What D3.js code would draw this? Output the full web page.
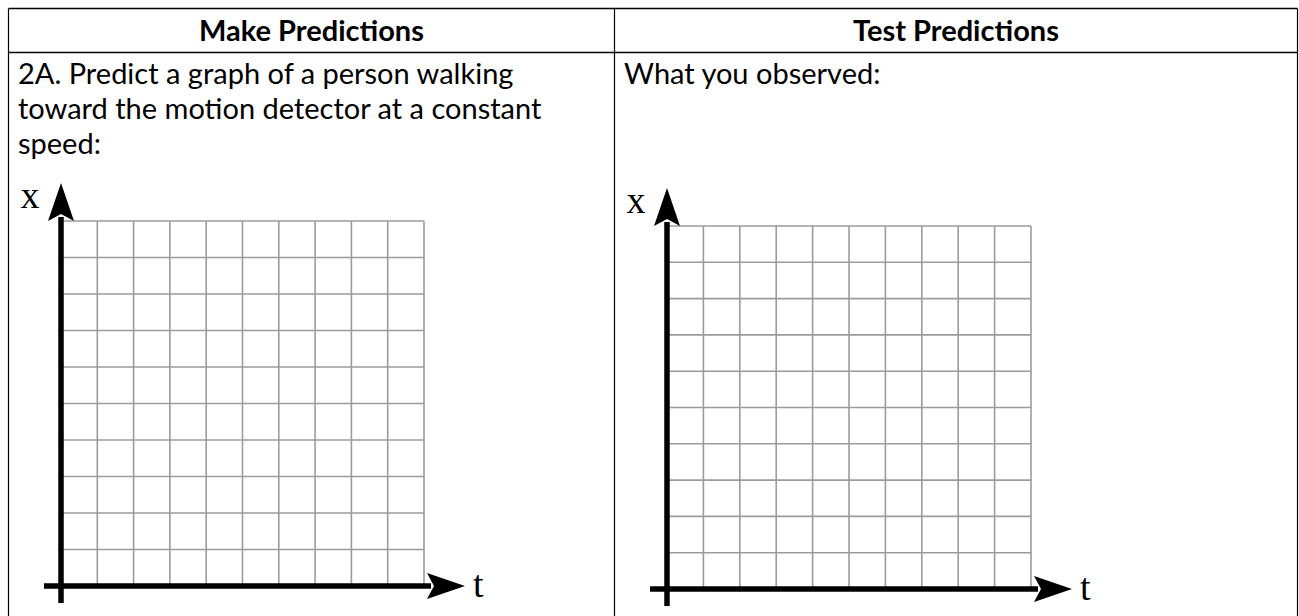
<!DOCTYPE html>
<html>
<head>
<meta charset="utf-8">
<script src="https://cdn.jsdelivr.net/npm/d3@7"></script>
<style>
  html, body { margin: 0; padding: 0; background: #fff; }
  svg { display: block; }
</style>
</head>
<body>
<svg id="sheet" width="1299" height="616"></svg>
<script>
// Worksheet content
const headers = ["Make Predictions", "Test Predictions"];
const promptLines = [
  "2A. Predict a graph of a person walking",
  "toward the motion detector at a constant",
  "speed:"
];
const observedLines = ["What you observed:"];
// Blank position-time grid: 10 x 10 squares
const tTicks = d3.range(0, 11);
const xTicks = d3.range(0, 11);
const axisNames = { vertical: "x", horizontal: "t" };

const svg = d3.select("#sheet");
const W = 1299, H = 616;

// Table frame
const table = { left: 8.5, top: 8.5, headBottom: 52.5, divider: 614.5, right: 1297.5 };
const frame = svg.append("g").attr("stroke", "#000").attr("stroke-width", 1.2).attr("fill", "none");
frame.append("line").attr("x1", table.left).attr("x2", table.right).attr("y1", table.top).attr("y2", table.top).attr("stroke-width", 1.6);
frame.append("line").attr("x1", table.left).attr("x2", table.right).attr("y1", table.headBottom).attr("y2", table.headBottom).attr("stroke-width", 1.6);
[table.left, table.divider, table.right].forEach(x =>
  frame.append("line").attr("x1", x).attr("x2", x).attr("y1", table.top).attr("y2", H + 2));

const textFont = "Lato, 'Open Sans', sans-serif";
const cols = [
  { x0: table.left, x1: table.divider },
  { x0: table.divider, x1: table.right }
];
svg.selectAll("text.head").data(headers).join("text")
  .attr("class", "head")
  .attr("x", (d, i) => (cols[i].x0 + cols[i].x1) / 2)
  .attr("y", 41)
  .attr("text-anchor", "middle")
  .attr("font-family", textFont)
  .attr("font-weight", 700)
  .attr("font-size", 29)
  .attr("fill", "#000")
  .text(d => d);

function bodyText(lines, x) {
  svg.append("g").selectAll("text").data(lines).join("text")
    .attr("x", x)
    .attr("y", (d, i) => 84 + i * 35)
    .attr("font-family", textFont)
    .attr("font-size", 29)
    .attr("fill", "#000")
    .text(d => d);
}
bodyText(promptLines, 18);
bodyText(observedLines, 624);

// One blank x-vs-t graph
function graph(box) {
  const sx = d3.scaleLinear().domain([0, 10]).range([box.left, box.right]);
  const sy = d3.scaleLinear().domain([0, 10]).range([box.bottom, box.top]);
  const g = svg.append("g");

  const grid = g.append("g").attr("stroke", "#9b9b9b").attr("stroke-width", 1.6).attr("fill", "none");
  grid.selectAll("line.v").data(tTicks.slice(1)).join("line")
    .attr("class", "v")
    .attr("x1", d => sx(d)).attr("x2", d => sx(d))
    .attr("y1", sy(0)).attr("y2", sy(10));
  grid.selectAll("line.h").data(xTicks.slice(1)).join("line")
    .attr("class", "h")
    .attr("x1", sx(0)).attr("x2", sx(10))
    .attr("y1", d => sy(d)).attr("y2", d => sy(d));

  const axisW = 5.5;
  const headLen = 38, headHalf = 13, notch = 7;
  // vertical axis with arrow
  const ax = sx(0), ay = sy(0);
  const tipY = sy(10) - box.arrowReach;
  g.append("line").attr("stroke", "#000").attr("stroke-width", axisW)
    .attr("x1", ax).attr("x2", ax).attr("y1", ay + 17).attr("y2", tipY + headLen - 4);
  g.append("path").attr("fill", "#000")
    .attr("d", `M${ax},${tipY} L${ax + headHalf},${tipY + headLen} L${ax},${tipY + headLen - notch} L${ax - headHalf},${tipY + headLen} Z`);
  // horizontal axis with arrow
  const tipX = sx(10) + box.arrowReach + 3;
  g.append("line").attr("stroke", "#000").attr("stroke-width", axisW)
    .attr("x1", ax - 17).attr("x2", tipX - headLen + 4).attr("y1", ay).attr("y2", ay);
  g.append("path").attr("fill", "#000")
    .attr("d", `M${tipX},${ay} L${tipX - headLen},${ay - headHalf} L${tipX - headLen + notch},${ay} L${tipX - headLen},${ay + headHalf} Z`);

  g.append("text")
    .attr("x", ax - 31).attr("y", sy(10) - 13)
    .attr("text-anchor", "middle")
    .attr("font-family", "'Liberation Serif', 'DejaVu Serif', serif")
    .attr("font-size", 38)
    .text(axisNames.vertical);
  g.append("text")
    .attr("x", tipX + 8).attr("y", ay + 11)
    .attr("font-family", "'Liberation Serif', 'DejaVu Serif', serif")
    .attr("font-size", 38)
    .text(axisNames.horizontal);
}

graph({ left: 61, right: 424, top: 221, bottom: 586, arrowReach: 38 });
graph({ left: 667, right: 1031, top: 226, bottom: 589, arrowReach: 38 });
</script>
</body>
</html>
